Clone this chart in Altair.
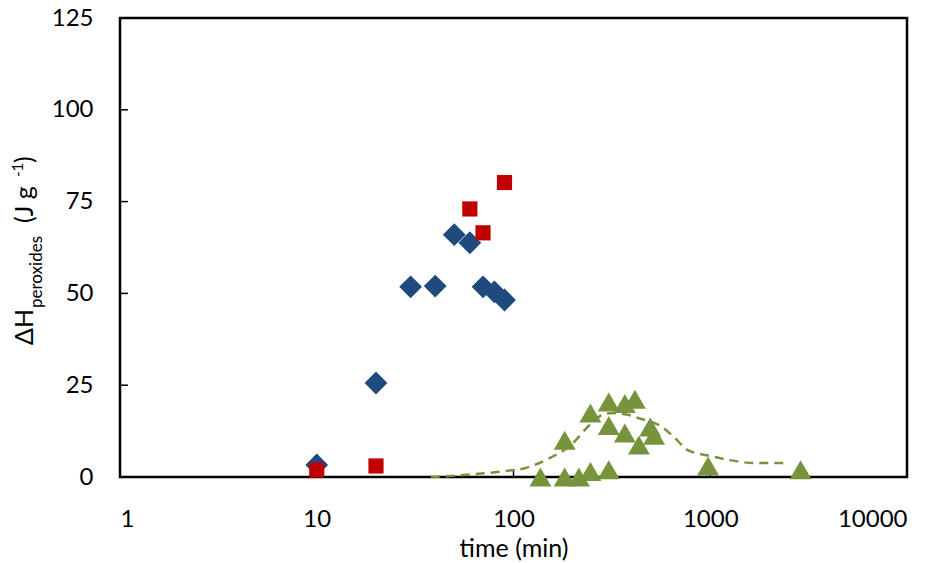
import altair as alt
import pandas as pd

# ---- data ----
diamond_time = [10, 20, 30, 40, 50, 60, 70, 80, 90]
diamond_val = [3.3, 25.6, 51.8, 52.0, 66.0, 63.8, 51.8, 50.4, 48.2]

square_time = [10, 20, 60, 70, 90]
square_val = [1.9, 3.0, 73.0, 66.5, 80.2]

tri_time = [137, 182, 215, 246, 305, 182, 246, 305, 368, 414, 305, 368, 434, 495, 518, 975, 2880]
tri_val = [0.0, 0.0, 0.0, 1.5, 2.0, 10.0, 17.4, 20.4, 20.0, 21.2, 14.0, 12.0, 8.7, 13.6, 11.4, 3.0, 2.0]

fit_time = [38, 61, 87, 114, 156, 191, 250, 291, 327, 377, 434, 569, 662, 764, 988, 1250, 1698, 2386]
fit_val = [0.0, 0.7, 1.5, 2.4, 5.4, 8.2, 14.7, 17.2, 17.4, 17.0, 16.0, 13.6, 10.6, 7.4, 5.8, 4.6, 3.8, 3.8]

x_ticks = [1, 10, 100, 1000, 10000]
y_ticks = [0, 25, 50, 75, 100, 125]
x_inner_ticks = [10, 100, 1000]
y_inner_ticks = [25, 50, 75, 100, 125]

FONT = "Lato"
W, H = 787, 459

xscale = alt.Scale(type="log", domain=[1, 10000])
yscale = alt.Scale(domain=[0, 125], nice=False)

d_df = pd.DataFrame({"t": diamond_time, "v": diamond_val})
s_df = pd.DataFrame({"t": square_time, "v": square_val})
t_df = pd.DataFrame({"t": tri_time, "v": tri_val})
f_df = pd.DataFrame({"t": fit_time, "v": fit_val})

x_enc = alt.X("t:Q", scale=xscale,
              axis=alt.Axis(values=x_ticks, format="d", title="time (min)",
                            grid=False, ticks=False, domain=False,
                            labelFont=FONT, labelFontSize=24, labelColor="#000",
                            labelPadding=30, titleFont=FONT, titleFontSize=25,
                            titleFontWeight="normal", titleColor="#000",
                            titlePadding=5))
y_enc = alt.Y("v:Q", scale=yscale,
              axis=alt.Axis(values=y_ticks, title=None, grid=False, ticks=False,
                            domain=False, labelFont=FONT, labelFontSize=24,
                            labelColor="#000", labelPadding=27))

diamonds = alt.Chart(d_df).mark_point(shape="diamond", filled=True, size=520,
                                      color="#1F4A7E", opacity=1).encode(x=x_enc, y=y_enc)
squares = alt.Chart(s_df).mark_point(shape="square", filled=True, size=230,
                                     color="#C00000", opacity=1).encode(
    x=alt.X("t:Q", scale=xscale), y=alt.Y("v:Q", scale=yscale))
fit = alt.Chart(f_df).mark_line(color="#77933C", strokeWidth=2.5, strokeDash=[9, 6],
                                interpolate="monotone").encode(
    x=alt.X("t:Q", scale=xscale), y=alt.Y("v:Q", scale=yscale))
tris = alt.Chart(t_df).mark_point(shape="triangle-up", filled=True, size=480,
                                  color="#77933C", opacity=1).encode(
    x=alt.X("t:Q", scale=xscale), y=alt.Y("v:Q", scale=yscale))

ytick_rules = alt.Chart(pd.DataFrame({"v": y_inner_ticks})).mark_rule(
    color="#000", strokeWidth=1.5).encode(
    y=alt.Y("v:Q", scale=yscale), x=alt.value(0), x2=alt.value(8))
xtick_rules = alt.Chart(pd.DataFrame({"t": x_inner_ticks})).mark_rule(
    color="#000", strokeWidth=1.5).encode(
    x=alt.X("t:Q", scale=xscale), y=alt.value(H), y2=alt.value(H - 8))

# y axis title built from pieces (subscript / superscript)
def title_piece(txt, x, y, size):
    return alt.Chart(pd.DataFrame({"s": [txt]})).mark_text(
        angle=270, align="left", baseline="alphabetic", font=FONT,
        fontSize=size, color="#000").encode(
        text="s:N", x=alt.value(x), y=alt.value(y))

title_parts = [
    title_piece("ΔH", -87, 327, 25),
    title_piece("peroxides", -78, 290, 17),
    title_piece("(J g", -87, 205, 25),
    title_piece("-1", -97, 159, 15),
    title_piece(")", -87, 145, 25),
]

chart = alt.layer(
    ytick_rules, xtick_rules, diamonds, squares, fit, tris, *title_parts
).properties(
    width=W, height=H,
    autosize=alt.AutoSizeParams(type="none"),
    padding={"left": 112, "top": 10, "right": 30, "bottom": 84},
).configure(
    background="white"
).configure_view(
    stroke="#000", strokeWidth=2.5, strokeOpacity=1
)

chart.save("out.html", embed_options={"renderer": "svg", "actions": False})
